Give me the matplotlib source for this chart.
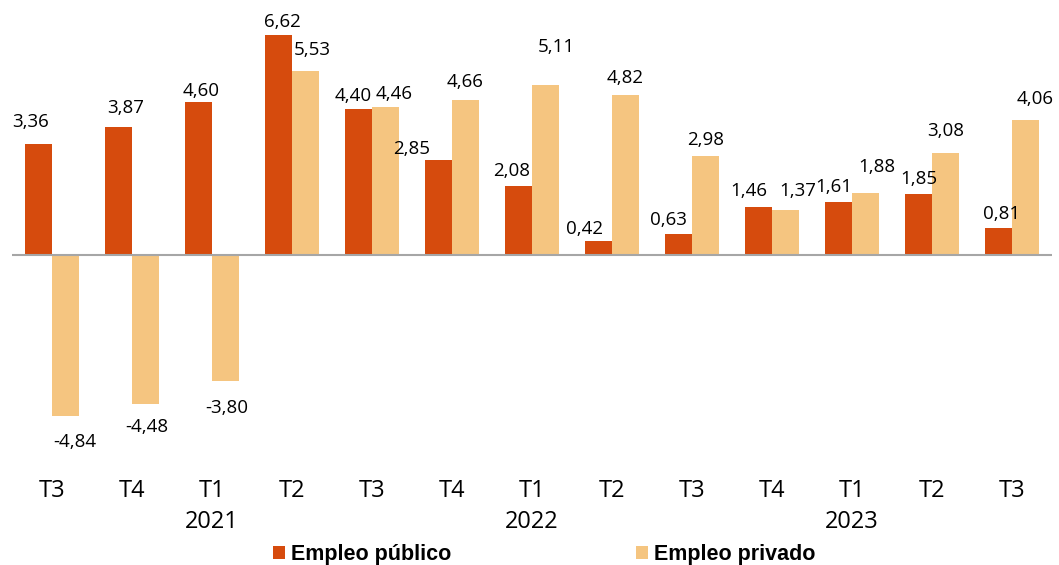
import matplotlib.pyplot as plt
import numpy as np

# Data (variación interanual, %)
quarters = ["T3", "T4", "T1\n2021", "T2", "T3", "T4", "T1\n2022", "T2", "T3", "T4",
            "T1\n2023", "T2", "T3"]
empleo_publico = [3.36, 3.87, 4.60, 6.62, 4.40, 2.85, 2.08, 0.42, 0.63, 1.46, 1.61, 1.85, 0.81]
empleo_privado = [-4.84, -4.48, -3.80, 5.53, 4.46, 4.66, 5.11, 4.82, 2.98, 1.37, 1.88, 3.08, 4.06]

# label nudges in points (style only)
pub_dx = [-6, 5, 2, 3, -4, -19, -5, -10, -7, -7, -3, 0, 2]
pub_dy = [9, 7, 2, 3, 3, 2, 4, 2, 4, 5, 4, 4, 4]
priv_dx = [7, 1, 1, 5, 6, 0, 8, 0, 0, 9, 8, 0, 7]
priv_dy = [12, 10, 13, 9, 3, 7, 21, 6, 5, 7, 12, 9, 9]

c_pub = "#D64B0D"
c_priv = "#F5C580"

plt.rcParams["font.family"] = ["Open Sans", "DejaVu Sans"]

fig = plt.figure(figsize=(10.59, 5.65), dpi=100)
ax = fig.add_axes([0.0113, 0.1858, 0.982, 0.7965])

x = np.arange(len(quarters))
w = 0.3375
b1 = ax.bar(x - w / 2, empleo_publico, w, color=c_pub, label="Empleo público")
b2 = ax.bar(x + w / 2, empleo_privado, w, color=c_priv, label="Empleo privado")

ax.axhline(0, color="#A6A6A6", lw=1.5, zorder=3)

def fmt(v):
    return f"{v:.2f}".replace(".", ",")

for i, v in enumerate(empleo_publico):
    ax.annotate(fmt(v), (x[i] - w / 2, v), xytext=(pub_dx[i], pub_dy[i]),
                textcoords="offset points", ha="center", va="bottom", fontsize=13.5)
for i, v in enumerate(empleo_privado):
    if v >= 0:
        ax.annotate(fmt(v), (x[i] + w / 2, v), xytext=(priv_dx[i], priv_dy[i]),
                    textcoords="offset points", ha="center", va="bottom", fontsize=13.5)
    else:
        ax.annotate(fmt(v), (x[i] + w / 2, v), xytext=(priv_dx[i], -priv_dy[i]),
                    textcoords="offset points", ha="center", va="top", fontsize=13.5)

ax.set_xlim(-0.5, len(quarters) - 0.5)
ax.set_ylim(-6.17, 7.38)
ax.set_xticks(x)
ax.set_xticklabels(quarters, fontsize=17, linespacing=1.34, va="top")
ax.tick_params(axis="x", length=0, pad=14)
ax.set_yticks([])
for s in ax.spines.values():
    s.set_visible(False)

fig.legend(handles=[b1, b2], loc="center", bbox_to_anchor=(0.514, 0.018), ncol=2,
           frameon=False, handlelength=0.56, handleheight=0.56, handletextpad=0.28,
           columnspacing=8.6, borderpad=0,
           prop={"family": "Liberation Sans", "weight": "bold", "size": 15.5})

fig.savefig("out.png", dpi=100)
